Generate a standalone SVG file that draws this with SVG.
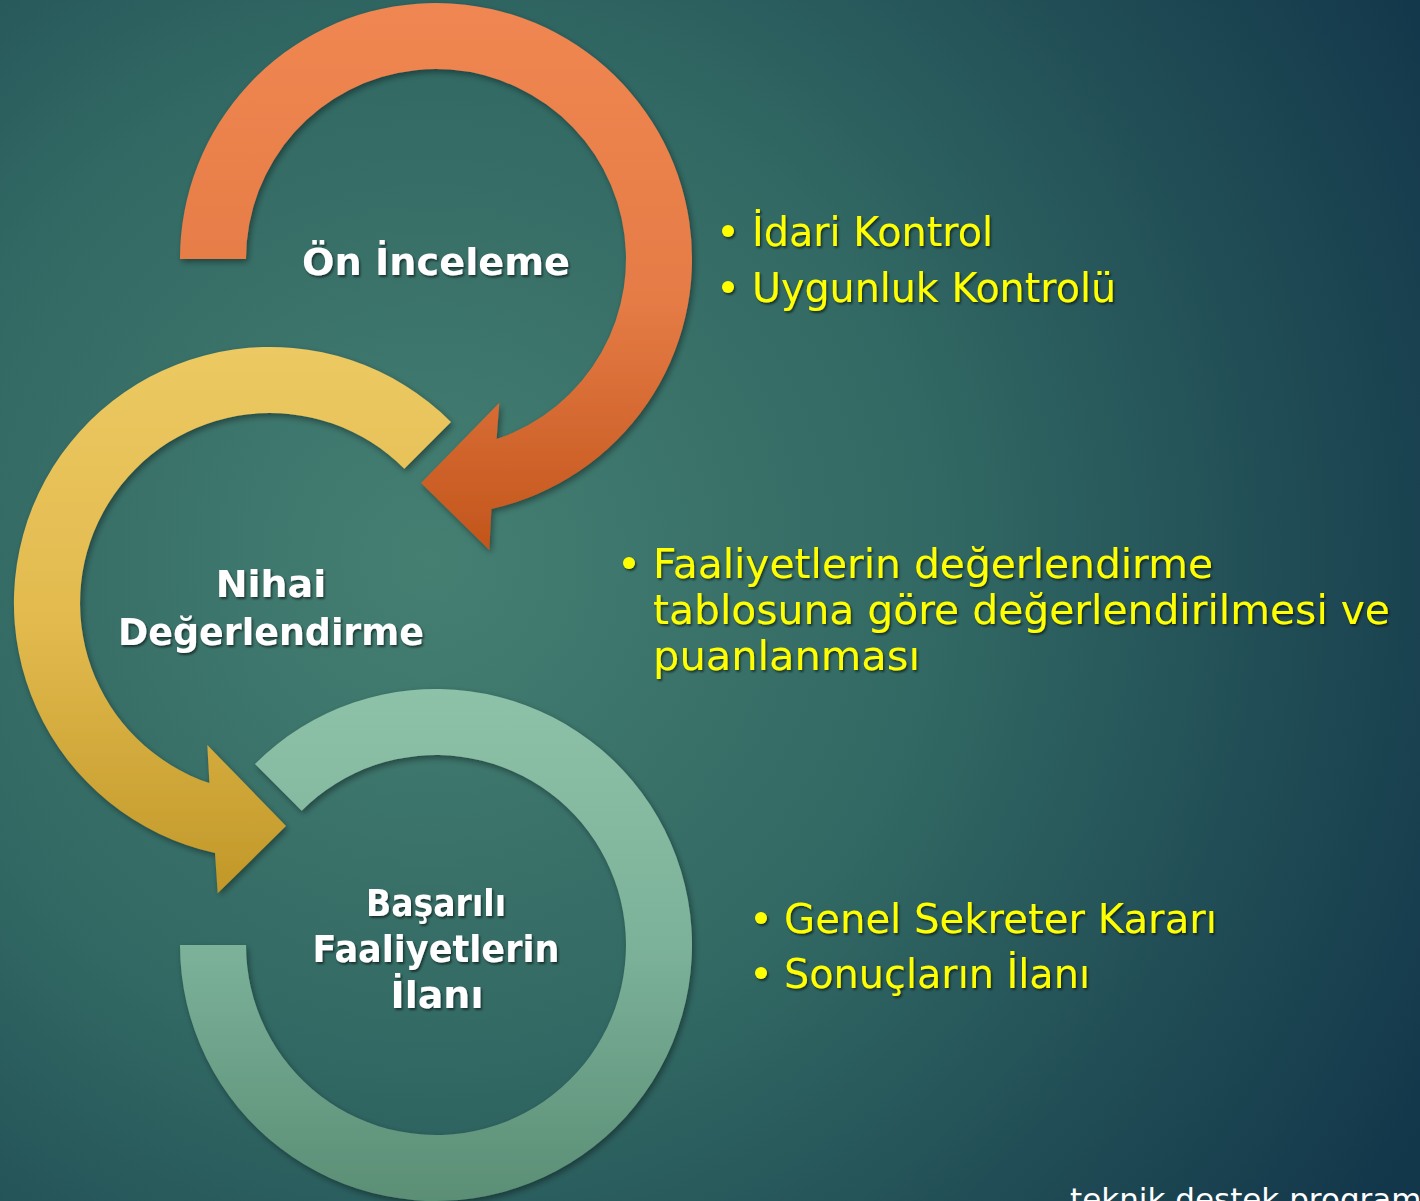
<svg xmlns="http://www.w3.org/2000/svg" width="1420" height="1201" viewBox="0 0 1420 1201">
  <defs>
    <radialGradient id="bg" gradientUnits="userSpaceOnUse" cx="430" cy="560" r="1150">
      <stop offset="0" stop-color="#457F72"/>
      <stop offset="0.45" stop-color="#316863"/>
      <stop offset="0.75" stop-color="#204C55"/>
      <stop offset="1" stop-color="#12364A"/>
    </radialGradient>
    <linearGradient id="gOrange" x1="0" y1="0" x2="0" y2="1">
      <stop offset="0" stop-color="#F08752"/>
      <stop offset="0.55" stop-color="#E57B45"/>
      <stop offset="1" stop-color="#C2551B"/>
    </linearGradient>
    <linearGradient id="gYellow" x1="0" y1="0" x2="0" y2="1">
      <stop offset="0" stop-color="#ECC962"/>
      <stop offset="0.5" stop-color="#E2BA4E"/>
      <stop offset="1" stop-color="#C19828"/>
    </linearGradient>
    <linearGradient id="gGreen" x1="0" y1="0" x2="0" y2="1">
      <stop offset="0" stop-color="#8DC2A8"/>
      <stop offset="0.5" stop-color="#7DB29A"/>
      <stop offset="1" stop-color="#5A8E75"/>
    </linearGradient>
    <filter id="shShape" x="-10%" y="-10%" width="120%" height="120%">
      <feDropShadow dx="2" dy="3" stdDeviation="3" flood-color="#000" flood-opacity="0.4"/>
    </filter>
    <filter id="shText" x="-5%" y="-20%" width="110%" height="140%">
      <feDropShadow dx="1.5" dy="2" stdDeviation="1.2" flood-color="#000" flood-opacity="0.55"/>
    </filter>
  </defs>
  <style>
    .node { font-family: "DejaVu Sans", "Liberation Sans", sans-serif; font-weight: 700; font-size: 38px; fill: #FFFFFF; text-anchor: middle; }
    .bul { font-family: "DejaVu Sans", "Liberation Sans", sans-serif; font-size: 40px; fill: #FFFF00; }
    .dot { fill: #FFFF00; }
    .foot { font-family: "DejaVu Sans", "Liberation Sans", sans-serif; font-size: 31px; fill: #FFFFFF; }
  </style>

  <rect x="0" y="0" width="1420" height="1201" fill="url(#bg)"/>

  <g id="connectors">
    <path id="arrow-orange" filter="url(#shShape)" fill="url(#gOrange)"
      d="M 180 259 A 256 256 0 1 1 491.4 508.9 L 489.3 550 L 421 483 L 499.3 402.7 L 496.6 439.1 A 190 190 0 1 0 246 259 Z"/>
    <path id="arrow-yellow" filter="url(#shShape)" fill="url(#gYellow)"
      d="M 451 422 A 256 256 0 1 0 215 853 L 217.7 893.3 L 286 826 L 207.3 745 L 209.4 783.1 A 190 190 0 1 1 404.35 468.65 Z"/>
    <path id="arrow-green" filter="url(#shShape)" fill="url(#gGreen)"
      d="M 254.98 763.98 A 256 256 0 1 1 180 945 L 246 945 A 190 190 0 1 0 301.65 810.65 Z"/>
  </g>

  <g id="node-on-inceleme" filter="url(#shText)">
    <text class="node" x="436" y="275" textLength="268" lengthAdjust="spacingAndGlyphs">Ön İnceleme</text>
  </g>
  <g id="node-nihai" filter="url(#shText)">
    <text class="node" x="271" y="597">Nihai</text>
    <text class="node" x="271" y="645" textLength="306" lengthAdjust="spacingAndGlyphs">Değerlendirme</text>
  </g>
  <g id="node-basarili" filter="url(#shText)">
    <text class="node" x="436" y="916" textLength="140" lengthAdjust="spacingAndGlyphs">Başarılı</text>
    <text class="node" x="436" y="962" textLength="247" lengthAdjust="spacingAndGlyphs">Faaliyetlerin</text>
    <text class="node" x="437" y="1008">İlanı</text>
  </g>

  <g id="bullets-1" filter="url(#shText)">
    <circle class="dot" cx="728" cy="231" r="6"/>
    <text class="bul" x="752" y="246" textLength="241" lengthAdjust="spacingAndGlyphs">İdari Kontrol</text>
    <circle class="dot" cx="728" cy="287" r="6"/>
    <text class="bul" x="752" y="302" textLength="364" lengthAdjust="spacingAndGlyphs">Uygunluk Kontrolü</text>
  </g>
  <g id="bullets-2" filter="url(#shText)">
    <circle class="dot" cx="629" cy="563" r="6"/>
    <text class="bul" x="653" y="578" textLength="560" lengthAdjust="spacingAndGlyphs">Faaliyetlerin değerlendirme</text>
    <text class="bul" x="653" y="624" textLength="737" lengthAdjust="spacingAndGlyphs">tablosuna göre değerlendirilmesi ve</text>
    <text class="bul" x="653" y="670" textLength="267" lengthAdjust="spacingAndGlyphs">puanlanması</text>
  </g>
  <g id="bullets-3" filter="url(#shText)">
    <circle class="dot" cx="761" cy="918" r="6"/>
    <text class="bul" x="784" y="933" textLength="433" lengthAdjust="spacingAndGlyphs">Genel Sekreter Kararı</text>
    <circle class="dot" cx="761" cy="973" r="6"/>
    <text class="bul" x="784" y="988" textLength="306" lengthAdjust="spacingAndGlyphs">Sonuçların İlanı</text>
  </g>

  <g id="footer">
    <text class="foot" x="1070" y="1210">teknik destek program</text>
  </g>
</svg>
